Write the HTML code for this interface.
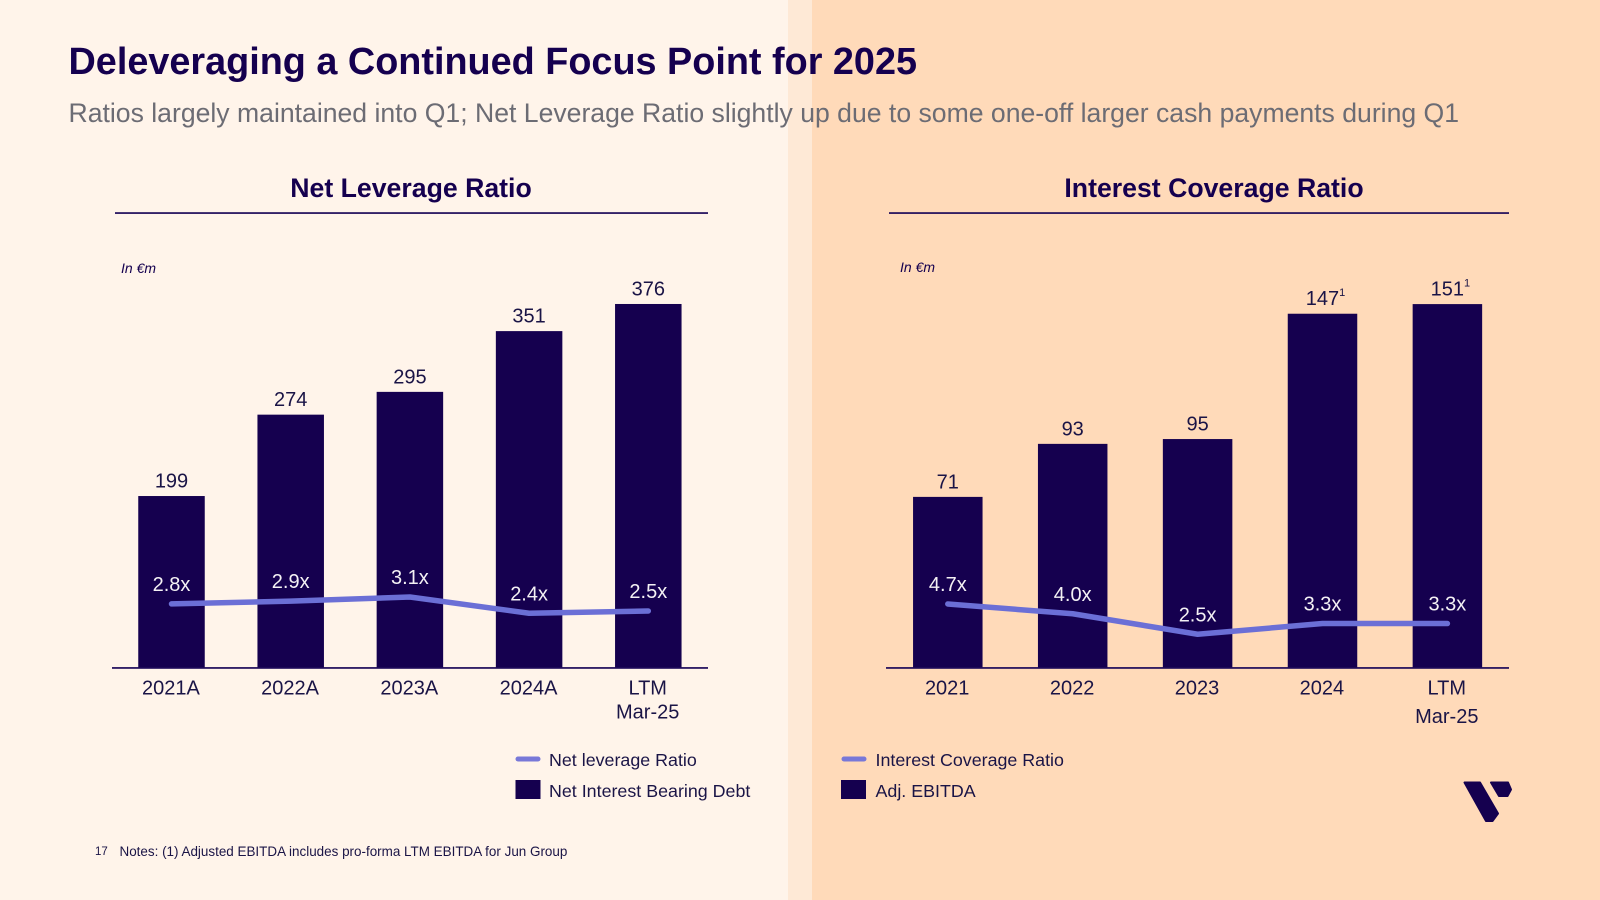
<!DOCTYPE html>
<html lang="en">
<head>
<meta charset="utf-8">
<title>Deleveraging a Continued Focus Point for 2025</title>
<style>
html,body{margin:0;padding:0;width:1600px;height:900px;overflow:hidden;background:#FFF4EA}
svg{display:block;font-family:"Liberation Sans",Arial,sans-serif}
</style>
</head>
<body>
<svg id="slide" xmlns="http://www.w3.org/2000/svg" width="1600" height="900" viewBox="0 0 1600 900">
  <rect x="0" y="0" width="788" height="900" fill="#FFF4EA"/>
  <rect x="788" y="0" width="24" height="900" fill="#FEE9D6"/>
  <rect x="812" y="0" width="788" height="900" fill="#FFDAB9"/>

  <text x="68.5" y="74" font-size="37.8" font-weight="700" fill="#15004F">Deleveraging a Continued Focus Point for 2025</text>
  <text x="68.5" y="122" font-size="26.6" fill="#6C6C74">Ratios largely maintained into Q1; Net Leverage Ratio slightly up due to some one-off larger cash payments during Q1</text>

  <text x="411" y="197" font-size="26.67" font-weight="700" fill="#15004F" text-anchor="middle">Net Leverage Ratio</text>
  <rect x="115" y="212.2" width="593" height="1.7" fill="#1E0A5A"/>
  <text x="121" y="273" font-size="14" font-style="italic" fill="#15004F">In €m</text>

  <text x="1214" y="197" font-size="26.67" font-weight="700" fill="#15004F" text-anchor="middle">Interest Coverage Ratio</text>
  <rect x="889" y="212.2" width="620" height="1.7" fill="#1E0A5A"/>
  <text x="900" y="272" font-size="14" font-style="italic" fill="#15004F">In €m</text>

  <g id="left-chart"></g>
  <g id="right-chart"></g>

  <g>
    <line x1="518" y1="759" x2="538" y2="759" stroke="#7878D8" stroke-width="5" stroke-linecap="round"/>
    <text x="549" y="766" font-size="17.85" fill="#1A1446">Net leverage Ratio</text>
    <rect x="515.5" y="780" width="25" height="19" fill="#15004F"/>
    <text x="549" y="797" font-size="17.85" fill="#1A1446">Net Interest Bearing Debt</text>
  </g>
  <g>
    <line x1="844" y1="759" x2="864" y2="759" stroke="#7878D8" stroke-width="5" stroke-linecap="round"/>
    <text x="875.5" y="766" font-size="17.85" fill="#1A1446">Interest Coverage Ratio</text>
    <rect x="841" y="780" width="25" height="19" fill="#15004F"/>
    <text x="875.5" y="797" font-size="17.85" fill="#1A1446">Adj. EBITDA</text>
  </g>

  <g fill="#15004F" stroke="#15004F" stroke-width="2" stroke-linejoin="round">
    <polygon points="1464.5,782.5 1480,782.5 1498,813.5 1492.5,821 1486,821"/>
    <polygon points="1491,782.5 1508,782.5 1511,789.5 1507.5,796 1499,796"/>
  </g>

  <text x="95" y="855" font-size="11.5" fill="#1A1446">17</text>
  <text x="119.5" y="856" font-size="13.45" fill="#1A1446">Notes: (1) Adjusted EBITDA includes pro-forma LTM EBITDA for Jun Group</text>
</svg>
<script>
const leverageCategories = ['2021A', '2022A', '2023A', '2024A', 'LTM|Mar-25'];
const debtValues = [199, 274, 295, 351, 376];
const leverageRatios = [2.8, 2.92, 3.1, 2.39, 2.49];
const debtFootnotes = ['', '', '', '', ''];

const coverageCategories = ['2021', '2022', '2023', '2024', 'LTM|Mar-25'];
const ebitdaValues = [71, 93, 95, 147, 151];
const coverageRatios = [4.7, 4.0, 2.53, 3.3, 3.3];
const ebitdaFootnotes = ['', '', '', '1', '1'];

const SVG_NS = 'http://www.w3.org/2000/svg';
const BASELINE_Y = 668;
const NAVY = '#15004F';
const LABEL_COLOR = '#1A1446';
const LINE_COLOR = '#6B6FD6';

function makeText(parent, x, y, size, fill, anchor, content) {
  const t = document.createElementNS(SVG_NS, 'text');
  t.setAttribute('x', x);
  t.setAttribute('y', y);
  t.setAttribute('font-size', size);
  t.setAttribute('fill', fill);
  t.setAttribute('text-anchor', anchor);
  t.textContent = content;
  parent.appendChild(t);
  return t;
}

function drawChart(groupId, cfg, categories, barValues, lineValues, footnotes) {
  const g = document.getElementById(groupId);
  const xCenter = i => cfg.x0 + i * cfg.step;
  const barY = v => BASELINE_Y - (v - cfg.barMin) * cfg.barScale;
  const lineY = v => cfg.lineTop + (cfg.lineRef - v) * cfg.lineScale;

  barValues.forEach((v, i) => {
    const r = document.createElementNS(SVG_NS, 'rect');
    
    
    r.setAttribute('x', xCenter(i) - cfg.barWidth / 2);
    r.setAttribute('y', barY(v));
    r.setAttribute('width', cfg.barWidth);
    r.setAttribute('height', BASELINE_Y - barY(v));
    r.setAttribute('fill', NAVY);
    g.appendChild(r);

    const valueLabel = makeText(g, xCenter(i) + (footnotes[i] ? 3 : 0), barY(v) - 8.5, 20, LABEL_COLOR, 'middle', String(v));
    
    
    if (footnotes[i]) {
      const sup = document.createElementNS(SVG_NS, 'tspan');
      
      
      sup.setAttribute('font-size', '11');
      sup.setAttribute('dy', '-9');
      sup.textContent = footnotes[i];
      valueLabel.appendChild(sup);
    }
  });

  const axis = document.createElementNS(SVG_NS, 'rect');
  
  
  axis.setAttribute('x', cfg.axisStart);
  axis.setAttribute('y', BASELINE_Y - 0.9);
  axis.setAttribute('width', cfg.axisEnd - cfg.axisStart);
  axis.setAttribute('height', 1.7);
  axis.setAttribute('fill', '#1E0A5A');
  g.appendChild(axis);

  const path = document.createElementNS(SVG_NS, 'polyline');
  
  
  path.setAttribute('points', lineValues.map((v, i) => xCenter(i) + ',' + lineY(v)).join(' '));
  path.setAttribute('fill', 'none');
  path.setAttribute('stroke', LINE_COLOR);
  path.setAttribute('stroke-width', '5.5');
  path.setAttribute('stroke-linecap', 'round');
  path.setAttribute('stroke-linejoin', 'round');
  g.appendChild(path);

  lineValues.forEach((v, i) => {
    const label = makeText(g, xCenter(i), lineY(v) - 13, 20, '#F4F1F4', 'middle', v.toFixed(1) + 'x');
    
    
  });

  categories.forEach((c, i) => {
    c.split('|').forEach((part, j) => {
      const tick = makeText(g, xCenter(i) - 0.6, 694.5 + j * cfg.tickLineGap, 20, LABEL_COLOR, 'middle', part);
      
      
    });
  });
}

drawChart('left-chart', {
  x0: 171.5, step: 119.2, barWidth: 66.5,
  barMin: 40.5, barScale: 1.085,
  lineTop: 597, lineRef: 3.1, lineScale: 22.9,
  axisStart: 112, axisEnd: 708, tickLineGap: 24
}, leverageCategories, debtValues, leverageRatios, debtFootnotes);

drawChart('right-chart', {
  x0: 947.8, step: 124.9, barWidth: 69.5,
  barMin: 0, barScale: 2.41,
  lineTop: 604, lineRef: 4.7, lineScale: 13.95,
  axisStart: 886, axisEnd: 1509, tickLineGap: 28.7
}, coverageCategories, ebitdaValues, coverageRatios, ebitdaFootnotes);
</script>
</body>
</html>
